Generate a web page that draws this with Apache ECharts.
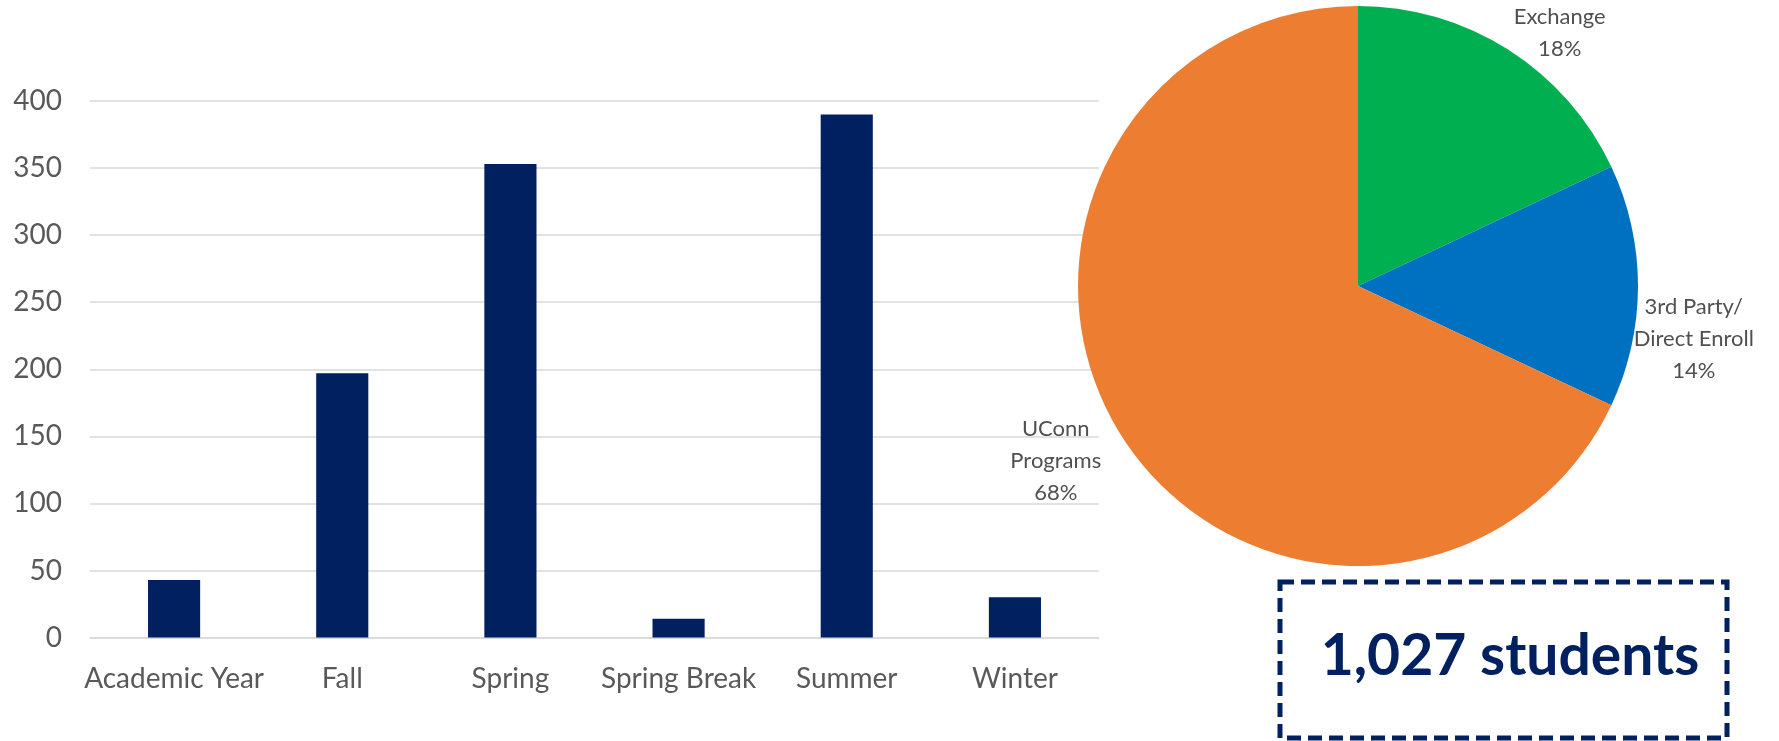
<!DOCTYPE html>
<html>
<head>
<meta charset="utf-8">
<title>Study abroad students</title>
<script src="https://cdn.jsdelivr.net/npm/echarts@6.0.0/dist/echarts.min.js"></script>
<style>
    html, body { margin: 0; padding: 0; background: #fff; }
    #chart { width: 1779px; height: 741px; }
</style>
</head>
<body>
<div id="chart"></div>
<script>
// bar chart: students by term
const terms = ['Academic Year', 'Fall', 'Spring', 'Spring Break', 'Summer', 'Winter'];
const termCounts = [43, 197, 353, 14, 390, 30];
const yTicks = [0, 50, 100, 150, 200, 250, 300, 350, 400];

// pie chart: program type share (%)
const programNames = ['Exchange', '3rd Party/\nDirect Enroll', 'UConn\nPrograms'];
const programShares = [18, 14, 68];
const programColors = ['#00B050', '#0070C0', '#ED7D31'];

const totalText = '1,027 students';

const pieCenter = [1358, 286];
const pieRadius = 280;
// where each label sits: [angle from 12 o'clock, distance from centre]
const labelSpots = [[38.5, 324], [99, 340], [240, 349]];

const font = 'Lato, "Open Sans", sans-serif';
const gray = '#595959';

let chart = echarts.init(document.getElementById('chart'));

let option = {
    backgroundColor: '#fff',
    animation: false,
    grid: {
        left: 90,
        right: 680,
        top: 101,
        bottom: 103.4,
        containLabel: false
    },
    xAxis: {
        type: 'category',
        data: terms,
        axisLine: { show: true, lineStyle: { color: '#d9d9d9', width: 1.5 } },
        axisTick: { show: false },
        axisLabel: {
            color: gray,
            fontFamily: font,
            fontSize: 28,
            lineHeight: 28,
            margin: 27,
            interval: 0
        }
    },
    yAxis: {
        type: 'value',
        min: yTicks[0],
        max: yTicks[yTicks.length - 1],
        interval: 50,
        axisLine: { show: false },
        axisTick: { show: false },
        splitLine: { lineStyle: { color: '#d9d9d9', width: 1.5 } },
        axisLabel: {
            color: gray,
            fontFamily: font,
            fontSize: 28,
            margin: 28
        }
    },
    series: [
        {
            name: 'Students',
            type: 'bar',
            data: termCounts,
            barWidth: '31%',
            itemStyle: { color: '#002060' },
            z: 2
        },
        {
            name: 'Program type',
            type: 'pie',
            center: pieCenter,
            radius: pieRadius,
            startAngle: 90,
            clockwise: true,
            z: 5,
            data: programNames.map((n, i) => ({
                name: n,
                value: programShares[i],
                itemStyle: { color: programColors[i] }
            })),
            label: {
                show: true,
                position: 'inside',
                formatter: '{b}\n{d}%',
                color: '#505050',
                fontFamily: font,
                fontSize: 22,
                lineHeight: 32,
                align: 'center',
                overflow: 'none'
            },
            labelLine: { show: false },
            labelLayout: params => {
                const spot = labelSpots[params.dataIndex];
                const a = spot[0] * Math.PI / 180;
                return {
                    x: pieCenter[0] + spot[1] * Math.sin(a),
                    y: pieCenter[1] - spot[1] * Math.cos(a),
                    align: 'center',
                    verticalAlign: 'middle'
                };
            }
        }
    ],
    graphic: [
        {
            type: 'rect',
            shape: { x: 1280, y: 582, width: 447, height: 156 },
            style: {
                fill: 'transparent',
                stroke: '#002060',
                lineWidth: 5,
                lineDash: [14, 7]
            },
            z: 10
        },
        {
            type: 'text',
            x: 1510,
            y: 657,
            style: {
                text: totalText,
                fill: '#002060',
                font: 'bold 57px ' + font,
                align: 'center',
                verticalAlign: 'middle'
            },
            z: 10
        }
    ]
};

chart.setOption(option);
</script>
</body>
</html>
